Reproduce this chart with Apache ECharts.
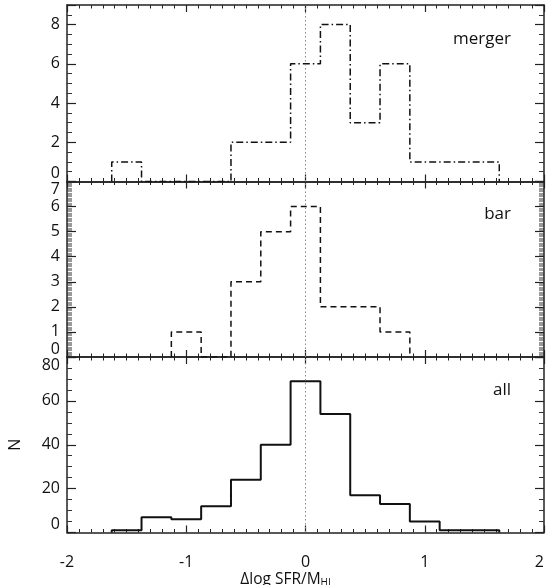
<!DOCTYPE html>
<html>
<head>
<meta charset="utf-8">
<script src="https://cdn.jsdelivr.net/npm/echarts@6/dist/echarts.min.js"></script>
<style>
    html, body { margin: 0; padding: 0; background: #fff; }
    #main { width: 547px; height: 585px; }
</style>
</head>
<body>
<div id="main"></div>
<script type="text/javascript">
    // bin centres (width 0.25) and counts per panel
    var bins = [-1.5, -1.25, -1.0, -0.75, -0.5, -0.25, 0, 0.25, 0.5, 0.75, 1.0, 1.25, 1.5];
    var binWidth = 0.25;
    var mergerCounts = [1, 0, 0, 0, 2, 2, 6, 8, 3, 6, 1, 1, 1];
    var barCounts = [0, 0, 1, 0, 3, 5, 6, 2, 2, 1, 0, 0, 0];
    var allCounts = [1, 7, 6, 12, 24, 40, 69, 54, 17, 13, 5, 1, 1];
    var panelNames = ['merger', 'bar', 'all'];
    var xTicks = [-2, -1, 0, 1, 2];

    var FONT = '"Open Sans", sans-serif';

    // histogram outline: goes up at the first filled bin and back to 0 after the last one
    function stepPoints(counts) {
        var first = -1, last = -1;
        for (var i = 0; i < counts.length; i++) {
            if (counts[i] > 0) {
                if (first < 0) first = i;
                last = i;
            }
        }
        var pts = [[bins[first] - binWidth / 2, 0]];
        for (var j = first; j <= last; j++) {
            pts.push([bins[j] - binWidth / 2, counts[j]]);
            pts.push([bins[j] + binWidth / 2, counts[j]]);
        }
        pts.push([bins[last] + binWidth / 2, 0]);
        return pts;
    }

    // fixed panel boxes (no auto shrinking for labels)
    var grids = [
        {left: 67, right: 3, top: 5, height: 176.5, outerBoundsMode: 'none', containLabel: false},
        {left: 67, right: 3, top: 181.5, height: 175.5, outerBoundsMode: 'none', containLabel: false},
        {left: 67, right: 3, top: 357, height: 175.5, outerBoundsMode: 'none', containLabel: false}
    ];
    var yRange = [
        {max: 9, interval: 2, minor: 4, minorWidth: 1},
        {max: 7, interval: 1, minor: 20, minorWidth: 0.5},
        {max: 80, interval: 20, minor: 4, minorWidth: 1}
    ];

    var axisLine = {show: true, onZero: false, lineStyle: {color: '#222', width: 1.5}};

    var xAxes = [], yAxes = [];
    for (var g = 0; g < 3; g++) {
        var isBottom = g === 2;
        ['bottom', 'top'].forEach(function (pos) {
            xAxes.push({
                type: 'value',
                gridIndex: g,
                position: pos,
                min: -2,
                max: 2,
                interval: 1,
                axisLine: axisLine,
                axisTick: {show: true, inside: true, length: 7, lineStyle: {color: '#222', width: 1.2}},
                minorTick: {show: true, splitNumber: 10, length: 3.5, lineStyle: {color: '#222', width: 1}},
                splitLine: {show: false},
                axisLabel: {
                    show: isBottom && pos === 'bottom',
                    margin: 22,
                    fontSize: 16,
                    fontFamily: FONT,
                    color: '#111',
                    alignMaxLabel: 'right',
                    formatter: function (v) { return xTicks.indexOf(v) >= 0 ? String(v) : ''; }
                },
                name: (isBottom && pos === 'bottom') ? '{a|Δlog SFR/M}{b|HI}' : '',
                nameLocation: 'middle',
                nameGap: 34,
                nameTextStyle: {
                    padding: [0, 40, 0, 0],
                    rich: {
                        a: {fontSize: 15.5, fontFamily: FONT, color: '#111', lineHeight: 18},
                        b: {fontSize: 10, fontFamily: FONT, color: '#111', lineHeight: 10, verticalAlign: 'bottom', padding: [7, 0, 0, 0]}
                    }
                }
            });
        });
        var yr = yRange[g];
        ['left', 'right'].forEach(function (pos) {
            yAxes.push({
                type: 'value',
                gridIndex: g,
                position: pos,
                min: 0,
                max: yr.max,
                interval: yr.interval,
                axisLine: axisLine,
                axisTick: {show: true, inside: true, length: 9, lineStyle: {color: '#222', width: 1.2}},
                minorTick: {show: true, splitNumber: yr.minor, length: 5, lineStyle: {color: '#333', width: yr.minorWidth}},
                splitLine: {show: false},
                axisLabel: {
                    show: pos === 'left',
                    margin: 7,
                    fontSize: 16,
                    fontFamily: FONT,
                    color: '#111',
                    verticalAlignMinLabel: 'bottom',
                    verticalAlignMaxLabel: 'top',
                    formatter: (function (yr) {
                        return function (v) { return (v % yr.interval === 0) ? String(v) : ''; };
                    })(yr)
                },
                name: (g === 2 && pos === 'left') ? 'N' : '',
                nameLocation: 'middle',
                nameGap: 44,
                nameTextStyle: {fontSize: 16, fontFamily: FONT, color: '#111'}
            });
        });
    }

    var styles = [
        {type: [7, 3, 1.5, 3], width: 1.5},
        {type: [6, 4], width: 1.5},
        {type: 'solid', width: 2}
    ];
    var countsList = [mergerCounts, barCounts, allCounts];

    var series = [];
    for (var k = 0; k < 3; k++) {
        series.push({
            type: 'line',
            xAxisIndex: 2 * k,
            yAxisIndex: 2 * k,
            data: stepPoints(countsList[k]),
            symbol: 'none',
            silent: true,
            lineStyle: {color: '#111', width: styles[k].width, type: styles[k].type},
            // dotted line at zero
            markLine: {
                silent: true,
                symbol: ['none', 'none'],
                label: {show: false},
                lineStyle: {color: '#888', type: [1.5, 2.5], width: 1},
                data: [{xAxis: 0}]
            }
        });
    }

    var titleTops = [31, 206, 382];
    var titles = panelNames.map(function (n, i) {
        return {
            text: n,
            right: 36,
            top: titleTops[i],
            padding: 0,
            textStyle: {fontSize: 17, fontWeight: 'normal', fontFamily: FONT, color: '#111'}
        };
    });

    var myChart = echarts.init(document.getElementById('main'));
    var option = {
        animation: false,
        backgroundColor: '#fff',
        title: titles,
        grid: grids,
        xAxis: xAxes,
        yAxis: yAxes,
        series: series
    };
    myChart.setOption(option);
</script>
</body>
</html>
